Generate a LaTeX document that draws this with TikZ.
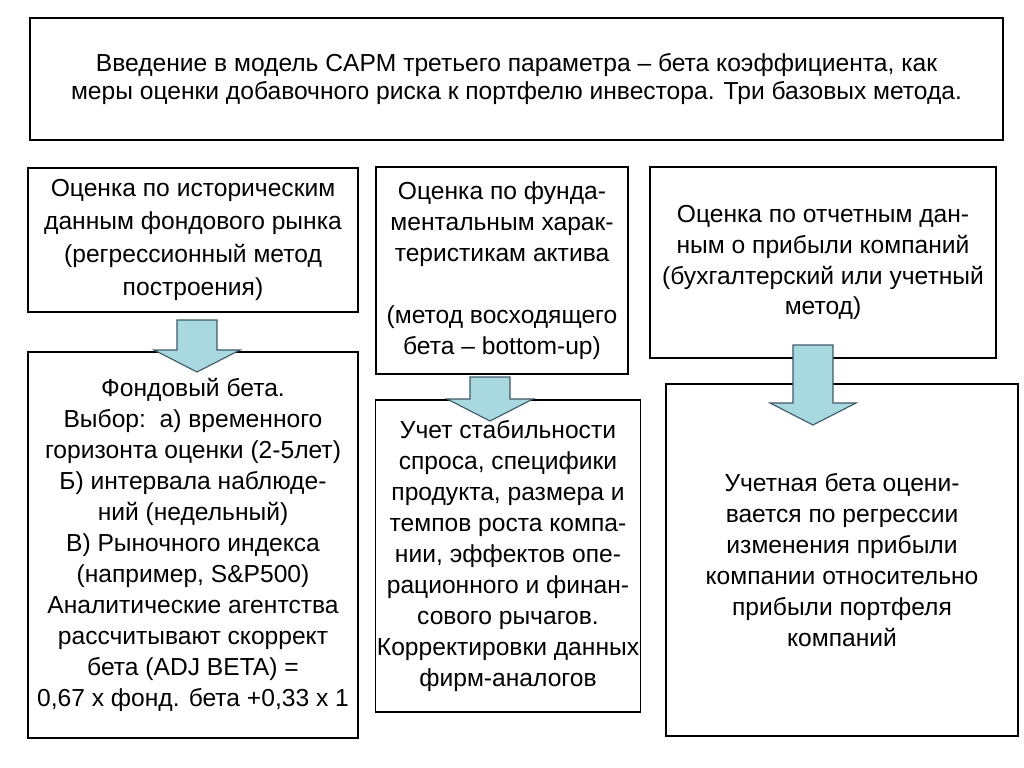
\documentclass[tikz,border=0pt]{standalone}
\usepackage{fontspec}
\setmainfont{Liberation Sans}
\definecolor{arrowblue}{rgb}{0.66, 0.85, 0.88}
\definecolor{arrowedge}{rgb}{0.25, 0.35, 0.40}
\usetikzlibrary{positioning}

\tikzset{
	box/.style = {draw, line width=0.8pt, align=center, inner sep=1pt,
		font=\fontsize{17.5}{22}\selectfont},
	downarrow/.style = {fill=arrowblue, draw=arrowedge, line width=0.8pt}
}
% one block arrow pointing down, centred at x, from y1 to y2 (pixels)
\newcommand{\downblock}[3]{
	\draw[downarrow] (#1-20,#2) -- (#1+20,#2) -- (#1+20,#3-22) -- (#1+43,#3-22)
		-- (#1,#3) -- (#1-43,#3-22) -- (#1-20,#3-22) -- cycle;
}

\begin{document}
\begin{tikzpicture}[x=0.025cm, y=-0.025cm]
	\useasboundingbox (0,0) rectangle (1024,768);
	% title
	\node[box, font=\fontsize{17.5}{20.5}\selectfont, minimum width=973*0.025cm, minimum height=122*0.025cm] (title) at (516.5,79)
		{Введение в модель CAPM третьего параметра – бета коэффициента, как\\
		 меры оценки добавочного риска к портфелю инвестора. Три базовых метода.};
	% methods
	\node[box, font=\fontsize{17.5}{23.4}\selectfont, minimum width=330*0.025cm, minimum height=144*0.025cm] (hist) at (193,240)
		{Оценка по историческим\\данным фондового рынка\\(регрессионный метод\\построения)};
	\node[box, minimum width=252*0.025cm, minimum height=207*0.025cm] (fund) at (502,270.5)
		{Оценка по фунда-\\ментальным харак-\\теристикам актива\\[22pt](метод восходящего\\бета – bottom-up)};
	\node[box, minimum width=346*0.025cm, minimum height=191*0.025cm] (acct) at (823,262.5)
		{Оценка по отчетным дан-\\ным о прибыли компаний\\(бухгалтерский или учетный\\метод)};
	% results
	\node[box, minimum width=330*0.025cm, minimum height=386*0.025cm] (histres) at (193,545)
		{Фондовый бета.\\Выбор:\ \ а) временного\\горизонта оценки (2-5лет)\\Б) интервала наблюде-\\ний (недельный)\\В) Рыночного индекса\\(например, S\&P500)\\Аналитические агентства\\рассчитывают скоррект\\бета (ADJ BETA) =\\0,67 х фонд. бета +0,33 х 1};
	\node[box, minimum width=264*0.025cm, minimum height=312*0.025cm] (fundres) at (508,556)
		{Учет стабильности\\спроса, специфики\\продукта, размера и\\темпов роста компа-\\нии, эффектов опе-\\рационного и финан-\\сового рычагов.\\Корректировки данных\\фирм-аналогов};
	\node[box, minimum width=352*0.025cm, minimum height=352*0.025cm] (acctres) at (842,560)
		{Учетная бета оцени-\\вается по регрессии\\изменения прибыли\\компании относительно\\прибыли портфеля\\компаний};
	% arrows
	\downblock{197}{320}{372}
	\downblock{490}{377}{421}
	\downblock{813}{345}{425}
\end{tikzpicture}
\end{document}
